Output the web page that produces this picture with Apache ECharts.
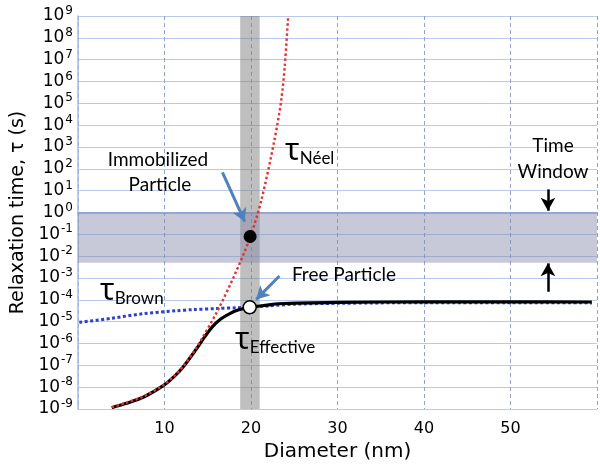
<!DOCTYPE html>
<html>
<head>
<meta charset="utf-8">
<script src="https://cdn.jsdelivr.net/npm/echarts@6/dist/echarts.min.js"></script>
<style>
  html, body { margin: 0; padding: 0; background: #fff; }
  #chart { width: 600px; height: 468px; }
</style>
</head>
<body>
<div id="chart"></div>
<script>
// Particle diameter (nm) against log10 of the relaxation time (s)
const neelDiameter  = [3.9, 5.5, 7.6, 9.9, 11.1, 12.2, 13.6, 16.0, 18.0, 19.85, 21.2, 22.7, 23.5, 23.9, 24.3];
const neelLogTau    = [-8.92, -8.72, -8.42, -7.9, -7.5, -7.03, -6.25, -4.6, -2.95, -1.2, 0.57, 3.3, 5.15, 6.7, 9.0];

const brownDiameter = [0.15, 3.8, 7.6, 11.4, 13.2, 16.0, 18.5, 19.85, 22.0, 25.0, 30.0, 40.0, 50.0, 59.4];
const brownLogTau   = [-5.03, -4.85, -4.63, -4.5, -4.45, -4.4, -4.36, -4.34, -4.28, -4.2, -4.16, -4.13, -4.13, -4.14];

const effDiameter   = [3.9, 5.5, 7.6, 9.9, 11.1, 12.2, 13.6, 14.6, 15.5, 16.5, 17.5, 18.5, 19.85, 21.9, 23.1, 30.0, 40.0, 50.0, 59.4];
const effLogTau     = [-8.94, -8.75, -8.45, -7.92, -7.52, -7.05, -6.3, -5.72, -5.25, -4.88, -4.64, -4.47, -4.34, -4.24, -4.18, -4.12, -4.09, -4.09, -4.1];

const immobilized   = [19.9, -1.1];
const freeParticle  = [19.85, -4.34];
const sizeBand      = [18.75, 21.0];
const timeWindow    = [-2.3, 0];

const xTickLabels   = [10, 20, 30, 40, 50];

const pairs = (xs, ys) => xs.map((x, i) => [x, ys[i]]);

const chart = echarts.init(document.getElementById('chart'), null, { renderer: 'canvas' });

const annFont = 'Lato';
const axisFont = 'DejaVu Sans';

const tauLabel = (x, y, sub) => ({
  type: 'text', x: x, y: y, z: 100,
  style: {
    text: '{t|τ}{s|' + sub + '}',
    fill: '#000',
    rich: {
      t: { fontSize: 30, fontFamily: 'Noto Sans', fill: '#000' },
      s: { fontSize: 17, fontFamily: annFont, fill: '#000', padding: [14, 0, 0, 0] }
    }
  }
});

const plainLabel = (x, y, text) => ({
  type: 'text', x: x, y: y, z: 100,
  style: { text: text, fill: '#000', font: '19px ' + annFont, textAlign: 'center', textVerticalAlign: 'middle' }
});

chart.setOption({
  animation: false,
  backgroundColor: '#fff',
  grid: { left: 78, top: 16, width: 524, height: 393 },
  xAxis: {
    type: 'value', min: 0, max: 60, interval: 10,
    name: 'Diameter (nm)', nameLocation: 'middle', nameGap: 28,
    nameTextStyle: { fontFamily: axisFont, fontSize: 20, color: '#000' },
    axisLine: { lineStyle: { color: '#8eaadb', width: 1.5 } },
    axisTick: { show: true, length: 6, lineStyle: { color: '#8ea4cf', type: [3, 3] } },
    axisLabel: {
      margin: 12, fontFamily: axisFont, fontSize: 16, color: '#000',
      formatter: v => (xTickLabels.indexOf(v) >= 0 ? String(v) : '')
    },
    splitLine: { show: true, lineStyle: { color: '#8ea4cf', type: [4, 3], width: 1 } }
  },
  yAxis: {
    type: 'value', min: -9, max: 9, interval: 1,
    name: 'Relaxation time, τ (s)', nameLocation: 'middle', nameGap: 47,
    nameTextStyle: { fontFamily: axisFont, fontSize: 19, color: '#000' },
    axisLine: { show: true, lineStyle: { color: '#a3bbe3', width: 1.5 } },
    axisTick: { show: false },
    axisLabel: {
      margin: 5,
      formatter: v => '{b|10}{s|' + (v < 0 ? '-' + Math.abs(v) : v) + '}',
      rich: {
        b: { fontFamily: axisFont, fontSize: 17, color: '#000' },
        s: { fontFamily: axisFont, fontSize: 12, color: '#000', padding: [0, 0, 10, 1] }
      }
    },
    splitLine: { show: true, lineStyle: { color: '#b9cbea', width: 1 } }
  },
  series: [
    {
      name: 'Brown', type: 'line', z: 3, smooth: 0.3, showSymbol: false,
      data: pairs(brownDiameter, brownLogTau),
      lineStyle: { color: '#2b3fd0', width: 3, type: [3, 2.5] },
      markArea: {
        silent: true,
        data: [
          [{ xAxis: sizeBand[0], itemStyle: { color: 'rgba(128,128,128,0.5)' } }, { xAxis: sizeBand[1] }],
          [{ yAxis: timeWindow[1], itemStyle: { color: 'rgba(130,135,170,0.45)' } }, { yAxis: timeWindow[0] }]
        ]
      }
    },
    {
      name: 'Effective', type: 'line', z: 4, smooth: 0.3, showSymbol: false,
      data: pairs(effDiameter, effLogTau),
      lineStyle: { color: '#000', width: 3.2 }
    },
    {
      name: 'Néel', type: 'line', z: 5, smooth: 0.3, showSymbol: false,
      data: pairs(neelDiameter, neelLogTau),
      lineStyle: { color: '#e8302a', width: 2.4, type: [2.5, 2.5] }
    },
    {
      name: 'Immobilized', type: 'scatter', z: 8, symbolSize: 13,
      data: [immobilized],
      itemStyle: { color: '#000', opacity: 1 },
      markLine: {
        silent: true, symbol: ['none', 'arrow'], symbolSize: [11, 13],
        label: { show: false },
        data: [
          [{ coord: [16.7, 1.84], lineStyle: { color: '#4f81bd', width: 3, type: 'solid' } }, { coord: [19.28, -0.42] }],
          [{ coord: [23.29, -2.91], lineStyle: { color: '#4f81bd', width: 3, type: 'solid' } }, { coord: [20.6, -3.98] }],
          [{ coord: [54.33, 1.06], lineStyle: { color: '#000', width: 2.5, type: 'solid' } }, { coord: [54.33, 0.08] }],
          [{ coord: [54.33, -3.63], lineStyle: { color: '#000', width: 2.5, type: 'solid' } }, { coord: [54.33, -2.33] }]
        ]
      }
    },
    {
      name: 'Free', type: 'scatter', z: 8, symbolSize: 13,
      data: [freeParticle],
      itemStyle: { color: '#fff', borderColor: '#000', borderWidth: 1.5, opacity: 1 }
    }
  ],
  graphic: [
    plainLabel(158, 160, 'Immobilized'),
    plainLabel(160, 185, 'Particle'),
    plainLabel(344, 275, 'Free Particle'),
    plainLabel(553, 146, 'Time'),
    plainLabel(553, 172, 'Window'),
    tauLabel(285, 136, 'Néel'),
    tauLabel(100, 276, 'Brown'),
    tauLabel(235, 325, 'Effective')
  ]
});
</script>
</body>
</html>
